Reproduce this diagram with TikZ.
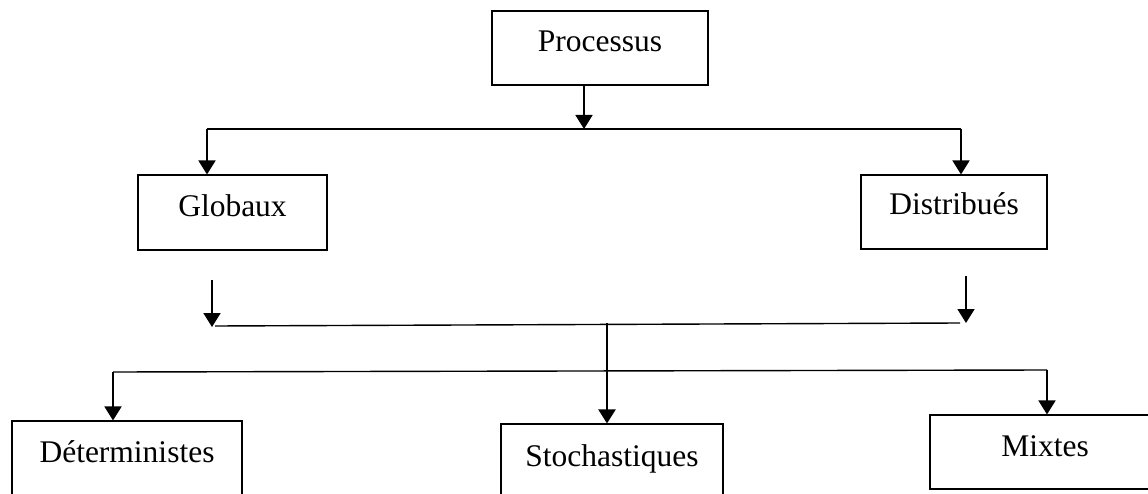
\documentclass[tikz,border=0pt]{standalone}
\usepackage{fontspec}
\setmainfont{Liberation Serif}
\usetikzlibrary{arrows.meta}
\begin{document}
\begin{tikzpicture}[x=1pt,y=-1pt,
  box/.style={draw,line width=1.1pt,inner sep=0pt,font=\fontsize{31.5}{38}\selectfont,anchor=base},
  arr/.style={line width=1.8pt,-{Triangle[width=17pt,length=14pt]}},
  hline/.style={line width=1.4pt}]
\useasboundingbox (0,0) rectangle (1148,494);
\clip (0,0) rectangle (1148,494);
% boxes
\node[box,minimum width=216pt,text height=41pt,text depth=33pt] (proc) at (600,52) {Processus};
\node[box,minimum width=189pt,text height=42pt,text depth=33pt] (glob) at (232.5,217) {Globaux};
\node[box,minimum width=186pt,text height=40pt,text depth=34pt] (dist) at (954,215) {Distribués};
\node[box,minimum width=230pt,text height=41pt,text depth=45pt] (det) at (127,462) {Déterministes};
\node[box,minimum width=222pt,text height=42pt,text depth=45pt] (sto) at (612,466) {Stochastiques};
\node[box,minimum width=230pt,text height=41pt,text depth=33pt] (mix) at (1045,456) {Mixtes};
% coordinates
\coordinate (p1) at (584,129);
\coordinate (l1) at (207,129);
\coordinate (r1) at (961,129);
\coordinate (ga) at (212,280);
\coordinate (gb) at (212,327);
\coordinate (gc) at (215,326);
\coordinate (da) at (966,276);
\coordinate (db) at (966,323);
\coordinate (dc) at (960,323);
\coordinate (m0) at (607,323);
\coordinate (l2) at (113,372);
\coordinate (r2) at (1047,370);
% connectors
\draw[arr] (proc.south -| p1) -- (p1);
\draw[hline] (l1) -- (r1);
\draw[arr] (l1) -- (l1 |- glob.north);
\draw[arr] (r1) -- (r1 |- dist.north);
\draw[arr] (ga) -- (gb);
\draw[arr] (da) -- (db);
\draw[hline] (gc) -- (dc);
\draw[line width=2.3pt,-{Triangle[width=17pt,length=14pt]}] (m0) -- (m0 |- sto.north);
\draw[hline] (l2) -- (r2);
\draw[arr] (l2) -- (l2 |- det.north);
\draw[arr] (r2) -- (r2 |- mix.north);
\end{tikzpicture}
\end{document}
